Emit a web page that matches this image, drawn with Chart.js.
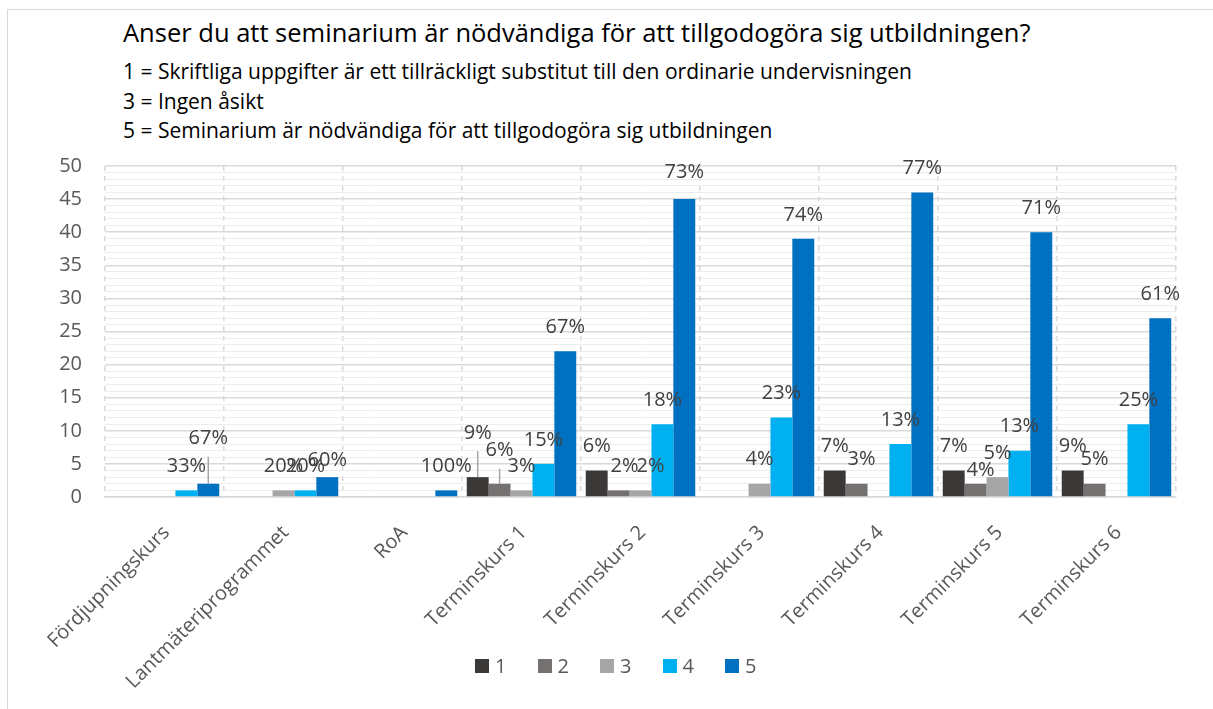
<!DOCTYPE html>
<html>
<head>
<meta charset="utf-8">
<script src="https://cdn.jsdelivr.net/npm/chart.js@4.4.0/dist/chart.umd.min.js"></script>
<style>
  body { margin: 0; background: #fff; }
  #wrap { position: relative; width: 1213px; height: 709px; overflow: hidden; font-family: 'Open Sans', sans-serif; }
  #frame { position: absolute; left: 7px; top: 9px; right: -4px; bottom: -4px; border-left: 1.5px solid #d9d9d9; border-top: 1.5px solid #d9d9d9; }
  #title { position: absolute; left: 123px; top: 17px; font-size: 25.5px; line-height: 30px; color: #000; white-space: nowrap; }
  #sub { position: absolute; left: 123px; top: 57px; font-size: 21px; line-height: 29.5px; color: #000; white-space: nowrap; }
  #legend { position: absolute; left: 475px; top: 651px; display: flex; font-size: 20px; line-height: 30px; color: #595959; }
  #legend .item { width: 62.5px; display: flex; align-items: center; }
  #legend .box { width: 14px; height: 14px; margin-right: 6px; }
  canvas { position: absolute; left: 0; top: 0; }
</style>
</head>
<body>
<div id="wrap">
  <div id="frame"></div>
  <div id="title">Anser du att seminarium är nödvändiga för att tillgodogöra sig utbildningen?</div>
  <div id="sub">
    <div>1 = Skriftliga uppgifter är ett tillräckligt substitut till den ordinarie undervisningen</div>
    <div>3 = Ingen åsikt</div>
    <div>5 = Seminarium är nödvändiga för att tillgodogöra sig utbildningen</div>
  </div>
  <canvas id="chart" width="1213" height="709"></canvas>
  <div id="legend"></div>
</div>
<script>
const categories = [
  'Fördjupningskurs',
  'Lantmäteriprogrammet',
  'RoA',
  'Terminskurs 1',
  'Terminskurs 2',
  'Terminskurs 3',
  'Terminskurs 4',
  'Terminskurs 5',
  'Terminskurs 6',
];
const seriesNames = ['1', '2', '3', '4', '5'];
const svar1 = [0, 0, 0, 3, 4, 0, 4, 4, 4];
const svar2 = [0, 0, 0, 2, 1, 0, 2, 2, 2];
const svar3 = [0, 1, 0, 1, 1, 2, 0, 3, 0];
const svar4 = [1, 1, 0, 5, 11, 12, 8, 7, 11];
const svar5 = [2, 3, 1, 22, 45, 39, 46, 40, 27];
const colors = ['#3b3838', '#767171', '#a6a6a6', '#00b0f0', '#0070c0'];

// label nudges [dx, dy, leader line] keyed "series,category"
const nudges = {
  '4,0': [0, -21, true],
  '4,1': [0, 7, false],
  '0,3': [0, -20, true],
  '1,3': [0, -9, true],
  '1,4': [6, 0, false],
  '2,4': [10, 0, false],
  '1,6': [5, 0, false],
  '1,7': [5, 11, false],
  '4,4': [0, -3, false],
};

const pctLabels = {
  id: 'pctLabels',
  afterDatasetsDraw(chart) {
    const { ctx } = chart;
    const sets = chart.data.datasets;
    const totals = categories.map((c, j) => sets.reduce((s, ds) => s + ds.data[j], 0));

    ctx.save();
    ctx.font = '20px "Open Sans"';
    ctx.fillStyle = '#404040';
    ctx.textAlign = 'center';
    ctx.textBaseline = 'middle';
    sets.forEach((ds, i) => {
      chart.getDatasetMeta(i).data.forEach((bar, j) => {
        const v = ds.data[j];
        if (!v) return;
        const n = nudges[i + ',' + j] || [0, 0, false];
        const x = bar.x + n[0];
        const y = bar.y - 24 + n[1];
        if (n[2]) {
          ctx.beginPath();
          ctx.lineWidth = 1.5;
          ctx.strokeStyle = '#a6a6a6';
          ctx.moveTo(bar.x, y + 18);
          ctx.lineTo(bar.x, bar.y);
          ctx.stroke();
        }
        ctx.fillText(Math.round(v / totals[j] * 100) + '%', x, y);
      });
    });
    ctx.restore();
  }
};

// legend as html so the long rotated x labels are not clipped by it
const htmlLegend = {
  id: 'htmlLegend',
  afterUpdate(chart) {
    const box = document.getElementById('legend');
    box.innerHTML = '';
    chart.data.datasets.forEach((ds) => {
      const item = document.createElement('div');
      item.className = 'item';
      const sw = document.createElement('span');
      sw.className = 'box';
      sw.style.background = ds.backgroundColor;
      const txt = document.createElement('span');
      txt.textContent = ds.label;
      item.appendChild(sw);
      item.appendChild(txt);
      box.appendChild(item);
    });
  }
};

Chart.defaults.font.family = "'Open Sans', sans-serif";
Chart.defaults.color = '#595959';

const ctx = document.getElementById('chart');

new Chart(ctx, {
  type: 'bar',
  data: {
    labels: categories,
    datasets: [svar1, svar2, svar3, svar4, svar5].map((d, i) => ({
      label: seriesNames[i],
      data: d,
      backgroundColor: colors[i],
      borderWidth: 0,
      categoryPercentage: 0.92,
      barPercentage: 1,
    })),
  },
  options: {
    responsive: false,
    animation: false,
    layout: {
      padding: { top: 166, left: 58, right: 37, bottom: 0 }
    },
    plugins: {
      legend: { display: false },
      tooltip: { enabled: false }
    },
    scales: {
      x: {
        grid: {
          color: '#d9d9d9',
          lineWidth: 1.5,
          drawTicks: false,
        },
        border: {
          dash: [5, 5],
          color: '#d9d9d9',
          width: 1.5
        },
        ticks: {
          maxRotation: 45,
          minRotation: 45,
          padding: 24,
          labelOffset: 2,
          color: '#595959',
          font: { size: 20 }
        },
        afterFit: (s) => {
          s.height = 212;
        }
      },
      y: {
        min: 0,
        max: 50,
        border: { display: false },
        grid: {
          drawTicks: false,
          color: (c) => c.tick.value % 5 === 0 ? '#d9d9d9' : '#ededed',
          lineWidth: (c) => c.tick.value % 5 === 0 ? 1.5 : 1
        },
        ticks: {
          stepSize: 1,
          autoSkip: false,
          padding: 23,
          color: '#595959',
          font: { size: 20 },
          callback: (v) => v % 5 === 0 ? v : ''
        },
        afterFit: (s) => {
          s.width = 47;
        }
      }
    }
  },
  plugins: [pctLabels, htmlLegend]
});
</script>
</body>
</html>
